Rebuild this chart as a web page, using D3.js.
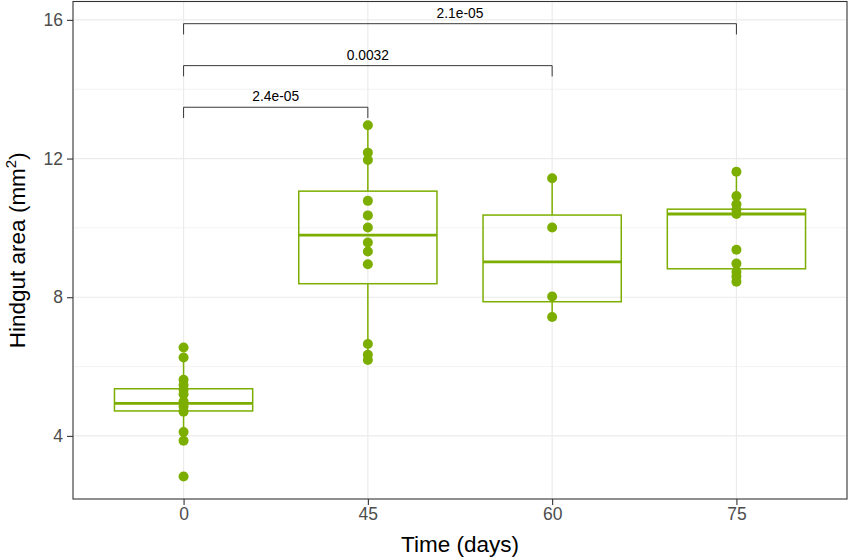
<!DOCTYPE html>
<html>
<head>
<meta charset="utf-8">
<script src="https://cdn.jsdelivr.net/npm/d3@7"></script>
<style>
  html, body { margin: 0; padding: 0; background: #fff; }
  svg { display: block; font-family: "Liberation Sans", Arial, sans-serif; }
</style>
</head>
<body>
<div id="chart"></div>
<script>
// ── Data ─────────────────────────────────────────────────────────────────────
const DAYS = ['0', '45', '60', '75'];

const day0  = [6.55, 6.26, 5.62, 5.47, 5.33, 5.20, 4.99, 4.85, 4.70, 4.11, 3.86, 2.83];
const day45 = [12.96, 12.17, 11.96, 10.78, 10.36, 10.01, 9.58, 9.32, 8.95, 6.65, 6.34, 6.19];
const day60 = [11.43, 10.01, 8.02, 7.43];
const day75 = [11.62, 10.92, 10.68, 10.52, 10.40, 9.37, 8.97, 8.73, 8.60, 8.45];

// box summaries per day
const q1        = [4.72, 8.39, 7.87, 8.82];
const medians   = [4.94, 9.79, 9.02, 10.40];
const q3        = [5.36, 11.06, 10.37, 10.54];
const whiskerLo = [3.86, 6.19, 7.43, 8.45];
const whiskerHi = [6.26, 12.96, 11.43, 11.62];

// pairwise comparisons vs day 0
const compareFrom = ['0', '0', '0'];
const compareTo   = ['45', '60', '75'];
const pLabels     = ['2.4e-05', '0.0032', '2.1e-05'];
const bracketY    = [13.48, 14.68, 15.89];

const yTicks      = [4, 8, 12, 16];
const yMinorTicks = [6, 10, 14];

// ── Layout ───────────────────────────────────────────────────────────────────
const W = 851, H = 558;
const margin = { top: 1.5, right: 4, bottom: 59, left: 73 };
const GREEN = '#7CAE00';

const svg = d3.select('#chart').append('svg')
  .attr('width', W).attr('height', H)
  .attr('viewBox', `0 0 ${W} ${H}`);

svg.append('rect').attr('width', W).attr('height', H).attr('fill', '#fff');

const x = d3.scalePoint()
  .domain(DAYS)
  .range([margin.left, W - margin.right])
  .padding(0.6);

const y = d3.scaleLinear()
  .domain([2.18, 16.53])
  .range([H - margin.bottom, margin.top]);

const boxW = x.step() * 0.75;

// ── Grid ─────────────────────────────────────────────────────────────────────
const grid = svg.append('g');
grid.selectAll('.minor').data(yMinorTicks).join('line')
  .attr('x1', margin.left).attr('x2', W - margin.right)
  .attr('y1', d => y(d)).attr('y2', d => y(d))
  .attr('stroke', '#ebebeb').attr('stroke-width', 0.6);
grid.selectAll('.major').data(yTicks).join('line')
  .attr('x1', margin.left).attr('x2', W - margin.right)
  .attr('y1', d => y(d)).attr('y2', d => y(d))
  .attr('stroke', '#ebebeb').attr('stroke-width', 1.2);
grid.selectAll('.vert').data(DAYS).join('line')
  .attr('x1', d => x(d)).attr('x2', d => x(d))
  .attr('y1', margin.top).attr('y2', H - margin.bottom)
  .attr('stroke', '#ebebeb').attr('stroke-width', 1.2);

// ── Boxes ────────────────────────────────────────────────────────────────────
const boxData = DAYS.map((d, i) => ({
  day: d, q1: q1[i], med: medians[i], q3: q3[i], lo: whiskerLo[i], hi: whiskerHi[i],
}));

const boxes = svg.append('g').selectAll('g').data(boxData).join('g');

boxes.append('line')
  .attr('x1', d => x(d.day)).attr('x2', d => x(d.day))
  .attr('y1', d => y(d.q3)).attr('y2', d => y(d.hi))
  .attr('stroke', GREEN).attr('stroke-width', 1.5);
boxes.append('line')
  .attr('x1', d => x(d.day)).attr('x2', d => x(d.day))
  .attr('y1', d => y(d.q1)).attr('y2', d => y(d.lo))
  .attr('stroke', GREEN).attr('stroke-width', 1.5);
boxes.append('rect')
  .attr('x', d => x(d.day) - boxW / 2)
  .attr('y', d => y(d.q3))
  .attr('width', boxW)
  .attr('height', d => y(d.q1) - y(d.q3))
  .attr('fill', 'none')
  .attr('stroke', GREEN).attr('stroke-width', 1.5);
boxes.append('line')
  .attr('x1', d => x(d.day) - boxW / 2).attr('x2', d => x(d.day) + boxW / 2)
  .attr('y1', d => y(d.med)).attr('y2', d => y(d.med))
  .attr('stroke', GREEN).attr('stroke-width', 2.8);

// ── Points ───────────────────────────────────────────────────────────────────
const pts = [day0, day45, day60, day75]
  .flatMap((vals, i) => vals.map(v => ({ day: DAYS[i], v })));

svg.append('g').selectAll('circle').data(pts).join('circle')
  .attr('cx', d => x(d.day))
  .attr('cy', d => y(d.v))
  .attr('r', 5)
  .attr('fill', GREEN);

// ── Significance brackets ────────────────────────────────────────────────────
const brackets = svg.append('g').selectAll('g')
  .data(pLabels.map((lab, i) => ({ a: compareFrom[i], b: compareTo[i], lab, yv: bracketY[i] })))
  .join('g');

const tickDrop = 0.31;
brackets.append('path')
  .attr('d', d => `M${x(d.a)},${y(d.yv - tickDrop)}V${y(d.yv)}H${x(d.b)}V${y(d.yv - tickDrop)}`)
  .attr('fill', 'none')
  .attr('stroke', '#222').attr('stroke-width', 0.9);
brackets.append('text')
  .attr('x', d => (x(d.a) + x(d.b)) / 2)
  .attr('y', d => y(d.yv) - 6)
  .attr('text-anchor', 'middle')
  .attr('fill', '#000')
  .style('font-size', '13.8px')
  .text(d => d.lab);

// ── Panel border ─────────────────────────────────────────────────────────────
svg.append('rect')
  .attr('x', margin.left).attr('y', margin.top)
  .attr('width', W - margin.left - margin.right)
  .attr('height', H - margin.top - margin.bottom)
  .attr('fill', 'none')
  .attr('stroke', '#333').attr('stroke-width', 1.1);

// ── Axes ─────────────────────────────────────────────────────────────────────
const yAxis = svg.append('g')
  .attr('transform', `translate(${margin.left},0)`)
  .call(d3.axisLeft(y).tickValues(yTicks).tickSize(6).tickPadding(4).tickFormat(d3.format('d')));
yAxis.select('.domain').remove();
yAxis.selectAll('.tick line').attr('stroke', '#333').attr('stroke-width', 1.1);
yAxis.selectAll('.tick text')
  .attr('fill', '#4d4d4d')
  .style('font-size', '17.5px')
  .style('font-family', '"Liberation Sans", Arial, sans-serif');

const xAxis = svg.append('g')
  .attr('transform', `translate(0,${H - margin.bottom})`)
  .call(d3.axisBottom(x).tickSize(6).tickPadding(3));
xAxis.select('.domain').remove();
xAxis.selectAll('.tick line').attr('stroke', '#333').attr('stroke-width', 1.1);
xAxis.selectAll('.tick text')
  .attr('fill', '#4d4d4d')
  .style('font-size', '17.5px')
  .style('font-family', '"Liberation Sans", Arial, sans-serif');

// ── Titles ───────────────────────────────────────────────────────────────────
svg.append('text')
  .attr('x', (margin.left + W - margin.right) / 2)
  .attr('y', 552)
  .attr('text-anchor', 'middle')
  .attr('fill', '#000')
  .style('font-size', '22.5px')
  .text('Time (days)');

const yTitle = svg.append('text')
  .attr('transform', `translate(25,${(margin.top + H - margin.bottom) / 2}) rotate(-90)`)
  .attr('text-anchor', 'middle')
  .attr('fill', '#000')
  .style('font-size', '22.5px');
yTitle.append('tspan').text('Hindgut area (mm');
yTitle.append('tspan').attr('dy', -9).style('font-size', '15px').text('2');
yTitle.append('tspan').attr('dy', 9).text(')');
</script>
</body>
</html>
